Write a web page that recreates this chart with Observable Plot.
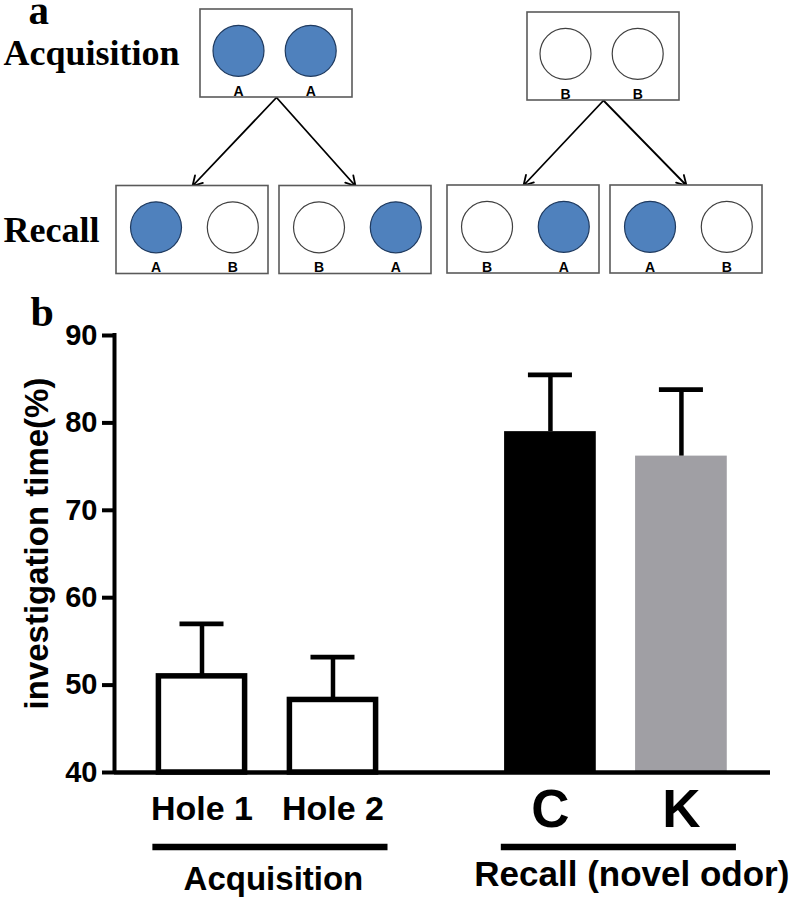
<!DOCTYPE html>
<html><head><meta charset="utf-8">
<script src="https://cdn.jsdelivr.net/npm/d3@7"></script>
<script src="https://cdn.jsdelivr.net/npm/@observablehq/plot@0.6"></script>
<style>
html,body{margin:0;padding:0;background:#fff;}
#chart{width:794px;}
#chart svg{display:block;}
</style></head><body><div id="chart"></div>
<script>
// ---------- Panel a: experimental design ----------
const acquisitionBoxes = [["A","A"],["B","B"]];
const recallBoxes = [["A","B"],["B","A"],["B","A"],["A","B"]];
const recallParent = [0,0,1,1];
const filledOdor = "A";
const rowLabels = ["Acquisition","Recall"];
const panelLabels = ["a","b"];

// ---------- Panel b: investigation time ----------
const categories = ["Hole 1","Hole 2","C","K"];
const groups = ["Acquisition","Acquisition","Recall (novel odor)","Recall (novel odor)"];
const means = [51.0, 48.3, 79.0, 76.2];
const errors = [6.0, 4.9, 6.5, 7.6];
const yTicks = [40,50,60,70,80,90];
const yLabel = "investigation time(%)";

// ================= layout =================
const W = 794, HA = 280, HB = 622;
const boxW = 152, boxH = 88;
const topRow = [{x:200,y:9},{x:527,y:12}];
const botRow = [{x:116,y:185.5},{x:279,y:185.5},{x:447,y:185},{x:610,y:185}];
const circleFrac = {top:[0.25,0.725], bot:[0.26,0.765]};
const blue = "#4f81bd";

const boxes = [], circles = [], labels = [], arrows = [];
function addBox(contents, pos, row){
  boxes.push({x1:pos.x, x2:pos.x+boxW, y1:pos.y, y2:pos.y+boxH});
  contents.forEach((odor,j)=>{
    const cx = pos.x + circleFrac[row][j]*boxW, cy = pos.y + 0.47*boxH;
    circles.push({cx, cy, filled: odor===filledOdor, row});
    labels.push({cx, y: pos.y+boxH-2, odor});
  });
}
acquisitionBoxes.forEach((c,i)=>addBox(c, topRow[i], "top"));
recallBoxes.forEach((c,i)=>{
  addBox(c, botRow[i], "bot");
  const p = topRow[recallParent[i]];
  arrows.push({x1:p.x+boxW/2, y1:p.y+boxH, x2:botRow[i].x+boxW/2, y2:botRow[i].y});
});
const rowY = ["top","bot"].map(r=>circles.find(c=>c.row===r).cy + 14.5);

const diag = Plot.plot({
  width: W, height: HA, margin: 0,
  x: {domain:[0,W], range:[0,W], axis:null},
  y: {domain:[0,HA], range:[0,HA], axis:null},
  style: {background:"white"},
  marks: [
    Plot.arrow(arrows, {x1:"x1", y1:"y1", x2:"x2", y2:"y2", stroke:"black", strokeWidth:1.8, headLength:9}),
    Plot.rect(boxes, {x1:"x1", x2:"x2", y1:"y1", y2:"y2", fill:"white", stroke:"#5a5a5a", strokeWidth:1.6}),
    Plot.dot(circles.filter(c=>c.filled), {x:"cx", y:"cy", r:25.5, fill:blue, stroke:"#1f3a5f", strokeWidth:1.2}),
    Plot.dot(circles.filter(c=>!c.filled), {x:"cx", y:"cy", r:25.5, fill:"white", stroke:"#404040", strokeWidth:1.2}),
    Plot.text(labels, {x:"cx", y:"y", text:"odor", fontSize:14, fontWeight:"bold", fontFamily:"Liberation Sans", lineAnchor:"bottom", fill:"black"}),
    Plot.text(rowLabels, {x:()=>3, y:(d,i)=>rowY[i], text:d=>d, textAnchor:"start", lineAnchor:"bottom", fontSize:36, fontWeight:"bold", fontFamily:"Liberation Serif", fill:"black"}),
    Plot.text([panelLabels[0]], {frameAnchor:"top-left", text:d=>d, dx:28, dy:23, textAnchor:"start", lineAnchor:"bottom", fontSize:41, fontWeight:"bold", fontFamily:"Liberation Serif", fill:"black"})
  ]
});

// ---------- bar chart ----------
const groupNames = [...new Set(groups)];
const groupGap = 0.66, half = 0.35, capHalf = 0.168;
const data = categories.map((c,i)=>({
  cat:c, group:groups[i],
  pos: i + groupNames.indexOf(groups[i])*groupGap,
  mean: means[i], hi: means[i]+errors[i]
}));
const groupData = groupNames.map(g=>{
  const ps = data.filter(d=>d.group===g).map(d=>d.pos);
  const x1 = d3.min(ps)-0.375, x2 = d3.max(ps)+0.42;
  return {group:g, x1, x2, mid:(x1+x2)/2};
});
const yMin = yTicks[0], yMax = yTicks[yTicks.length-1];
const xDomain = [-0.668, 4.34];

const bars = Plot.plot({
  width: W, height: HB,
  marginLeft: 114, marginRight: 24, marginTop: 55, marginBottom: 130,
  x: {domain: xDomain, axis: null},
  y: {domain: [yMin, yMax]},
  color: {domain: categories, range: ["white","white","black","#a09fa4"]},
  style: {fontFamily: "Liberation Sans", background: "white", color: "black"},
  marks: [
    Plot.rect(data, {x1:d=>d.pos-half, x2:d=>d.pos+half, y1:()=>yMin, y2:"mean", fill:"cat"}),
    Plot.rect(data.filter(d=>d.cat.length>1), {x1:d=>d.pos-half, x2:d=>d.pos+half, y1:()=>yMin, y2:"mean", fill:"none", stroke:"black", strokeWidth:5.5, insetLeft:2.75, insetRight:2.75}),
    Plot.ruleX(data, {x:"pos", y1:"mean", y2:"hi", stroke:"black", strokeWidth:4.5}),
    Plot.ruleY(data, {y:"hi", x1:d=>d.pos-capHalf, x2:d=>d.pos+capHalf, stroke:"black", strokeWidth:4.7}),
    Plot.ruleY([yMin], {stroke:"black", strokeWidth:4.7}),
    Plot.ruleX([xDomain[0]], {y1:yMin, y2:yMax, stroke:"black", strokeWidth:4, strokeLinecap:"square"}),
    Plot.axisY({ticks: yTicks, tickSize: 12, tickPadding: 5, strokeWidth: 4, fontSize: 29, fontWeight: "bold", label: null, tickFormat: d=>String(d), fill:"black"}),
    Plot.text(data.filter(d=>d.cat.length>1), {x:"pos", text:"cat", frameAnchor:"bottom", dy:47, lineAnchor:"bottom", fontSize:34, fontWeight:"bold", fill:"black"}),
    Plot.text(data.filter(d=>d.cat.length===1), {x:"pos", text:"cat", frameAnchor:"bottom", dy:54, lineAnchor:"bottom", fontSize:53, fontWeight:"bold", fill:"black"}),
    Plot.ruleY(groupData, {x1:"x1", x2:"x2", y:()=>yMin, dy:74.5, stroke:"black", strokeWidth:6.5}),
    Plot.text(groupData.slice(0,1), {x:"mid", text:"group", frameAnchor:"bottom", dx:3, dy:117, lineAnchor:"bottom", fontSize:33, fontWeight:"bold", fill:"black"}),
    Plot.text(groupData.slice(1), {x:"mid", text:"group", frameAnchor:"bottom", dx:13, dy:113, lineAnchor:"bottom", fontSize:35, fontWeight:"bold", fill:"black"}),
    Plot.text([yLabel], {text:d=>d, frameAnchor:"left", rotate:-90, dx:-67, dy:-10.5, lineAnchor:"bottom", textAnchor:"middle", fontSize:33, fontWeight:"bold", fill:"black"}),
    Plot.text([panelLabels[1]], {text:d=>d, frameAnchor:"top-left", dx:-84, dy:-10, textAnchor:"start", lineAnchor:"bottom", fontSize:42, fontWeight:"bold", fontFamily:"Liberation Serif", fill:"black"})
  ]
});

const root = document.getElementById("chart");
root.appendChild(diag);
root.appendChild(bars);
</script></body></html>
